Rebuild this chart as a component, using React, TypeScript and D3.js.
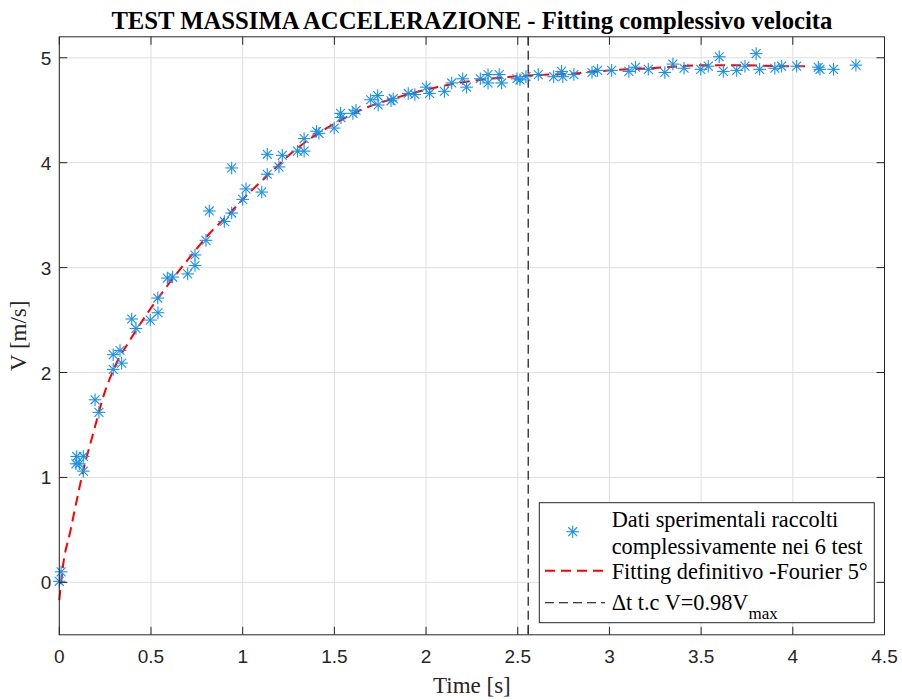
import React from "react";
import * as d3 from "d3";

// Experimental data (time [s], velocity [m/s])
const dataT: number[] = [
  0.00, 0.01, 0.095, 0.131, 0.091, 0.109, 0.131, 0.195, 0.216, 0.294,
  0.331, 0.294, 0.340, 0.395, 0.418, 0.496, 0.538, 0.537, 0.589, 0.618,
  0.700, 0.740, 0.740, 0.800, 0.818, 0.900, 0.940, 0.940, 1.000, 1.018,
  1.104, 1.134, 1.134, 1.198, 1.216, 1.299, 1.335, 1.335, 1.403, 1.416,
  1.499, 1.534, 1.536, 1.601, 1.618, 1.698, 1.736, 1.739, 1.809, 1.821,
  1.903, 1.939, 2.001, 2.019, 2.100, 2.140, 2.200, 2.221, 2.296, 2.338,
  2.338, 2.399, 2.412, 2.496, 2.512, 2.545, 2.612, 2.696, 2.739, 2.746,
  2.806, 2.905, 2.935, 3.012, 3.106, 3.142, 3.212, 3.302, 3.346, 3.407,
  3.498, 3.539, 3.599, 3.621, 3.694, 3.739, 3.800, 3.819, 3.902, 3.939,
  4.021, 4.139, 4.148, 4.222, 4.344,
];
const dataV: number[] = [
  0.01, 0.10, 1.20, 1.20, 1.13, 1.13, 1.06, 1.74, 1.62, 2.17,
  2.21, 2.03, 2.09, 2.51, 2.42, 2.50, 2.57, 2.71, 2.90, 2.91,
  2.94, 3.02, 3.12, 3.26, 3.54, 3.44, 3.52, 3.95, 3.65, 3.75,
  3.72, 3.89, 4.08, 3.96, 4.07, 4.11, 4.11, 4.23, 4.30, 4.28,
  4.33, 4.47, 4.43, 4.47, 4.50, 4.60, 4.64, 4.55, 4.59, 4.61,
  4.66, 4.65, 4.72, 4.66, 4.68, 4.76, 4.80, 4.72, 4.80, 4.84,
  4.76, 4.84, 4.76, 4.80, 4.79, 4.82, 4.84, 4.82, 4.87, 4.82,
  4.84, 4.86, 4.88, 4.88, 4.87, 4.91, 4.89, 4.86, 4.94, 4.90,
  4.89, 4.92, 5.01, 4.87, 4.88, 4.92, 5.04, 4.89, 4.90, 4.92,
  4.92, 4.91, 4.89, 4.89, 4.93,
];

// Fourier fit curve
const fitT: number[] = [
  0, 0.022, 0.058, 0.095, 0.131, 0.185, 0.240, 0.304, 0.386, 0.467,
  0.586, 0.731, 0.822, 0.913, 1.040, 1.149, 1.258, 1.403, 1.531, 1.640,
  1.840, 2.058, 2.300, 2.557, 2.803, 3.003, 3.221, 3.530, 3.730, 3.948, 4.093,
];
const fitV: number[] = [
  -0.17, 0.18, 0.47, 0.78, 1.07, 1.42, 1.77, 2.06, 2.31, 2.53,
  2.82, 3.14, 3.33, 3.49, 3.72, 3.90, 4.08, 4.27, 4.40, 4.50,
  4.62, 4.72, 4.79, 4.83, 4.85, 4.88, 4.90, 4.93, 4.93, 4.92, 4.92,
];

const tStar = 2.557;
const xTicks: number[] = [0, 0.5, 1, 1.5, 2, 2.5, 3, 3.5, 4, 4.5];
const xTickLabels: string[] = ["0", "0.5", "1", "1.5", "2", "2.5", "3", "3.5", "4", "4.5"];
const yTicks: number[] = [0, 1, 2, 3, 4, 5];
const yTickLabels: string[] = ["0", "1", "2", "3", "4", "5"];

const titleText = "TEST MASSIMA ACCELERAZIONE - Fitting complessivo velocita";
const xLabel = "Time [s]";
const yLabel = "V [m/s]";
const legend1a = "Dati sperimentali raccolti";
const legend1b = "complessivamente nei 6 test";
const legend2 = "Fitting definitivo -Fourier 5°";
const legend3 = "Δt t.c V=0.98V";
const legend3sub = "max";

const W = 902, H = 700;
const L = 59.3, R = 884.5, T = 36.8, B = 634.8;
const AX = "#262626";
const BLUE = "#1890ec";
const SERIF = "'Liberation Serif', 'Times New Roman', serif";
const SANS = "'Liberation Sans', Arial, Helvetica, sans-serif";

function Star({ x, y, r = 6.3 }: { x: number; y: number; r?: number }) {
  const d = r * 0.7071;
  return (
    <g stroke={BLUE} strokeWidth={1.1}>
      <line x1={x - r} y1={y} x2={x + r} y2={y} />
      <line x1={x} y1={y - r} x2={x} y2={y + r} />
      <line x1={x - d} y1={y - d} x2={x + d} y2={y + d} />
      <line x1={x - d} y1={y + d} x2={x + d} y2={y - d} />
    </g>
  );
}

export default function App() {
  const x = d3.scaleLinear().domain([0, 4.5]).range([L, R]);
  const y = d3.scaleLinear().domain([-0.5, 5.2]).range([B, T]);
  const fitPts: [number, number][] = fitT.map((t, i) => [t, fitV[i]]);
  const line = d3
    .line<[number, number]>()
    .x((d) => x(d[0]))
    .y((d) => y(d[1]))
    .curve(d3.curveMonotoneX);

  const tickLen = 8;
  const allXTicks = [...xTicks, tStar];

  // legend geometry
  const lgX = 539.3, lgY = 502.7, lgW = 335, lgH = 120;

  return (
    <svg width={W} height={H} style={{ position: "absolute", left: 0, top: 0, background: "#fff" }}>
      <rect x={0} y={0} width={W} height={H} fill="#fff" />
      {/* grid */}
      <g stroke="#dfdfdf" strokeWidth={1}>
        {xTicks.map((t) => (
          <line key={"gx" + t} x1={x(t)} x2={x(t)} y1={T} y2={B} />
        ))}
        {yTicks.map((v) => (
          <line key={"gy" + v} x1={L} x2={R} y1={y(v)} y2={y(v)} />
        ))}
      </g>

      {/* vertical dashed line */}
      <line x1={x(tStar)} x2={x(tStar)} y1={T} y2={B} stroke="#000" strokeWidth={1.1} strokeDasharray="9,5" />

      {/* fit curve */}
      <path d={line(fitPts) || ""} fill="none" stroke="#ff0000" strokeWidth={2} strokeDasharray="10,6" />

      {/* data stars */}
      {dataT.map((t, i) => (
        <Star key={"s" + i} x={x(t)} y={y(dataV[i])} />
      ))}

      {/* axes box */}
      <rect x={L} y={T} width={R - L} height={B - T} fill="none" stroke={AX} strokeWidth={1} />
      <g stroke={AX} strokeWidth={1}>
        {allXTicks.map((t) => (
          <g key={"xt" + t}>
            <line x1={x(t)} x2={x(t)} y1={B} y2={B - tickLen} />
            <line x1={x(t)} x2={x(t)} y1={T} y2={T + tickLen} />
          </g>
        ))}
        {yTicks.map((v) => (
          <g key={"yt" + v}>
            <line x1={L} x2={L + tickLen} y1={y(v)} y2={y(v)} />
            <line x1={R} x2={R - tickLen} y1={y(v)} y2={y(v)} />
          </g>
        ))}
      </g>

      {/* tick labels */}
      <g fill={AX} fontFamily={SANS} fontSize={19}>
        {xTicks.map((t, i) => (
          <text key={"xl" + t} x={x(t)} y={B + 28} textAnchor="middle">
            {xTickLabels[i]}
          </text>
        ))}
        {yTicks.map((v, i) => (
          <text key={"yl" + v} x={L - 8} y={y(v) + 7} textAnchor="end">
            {yTickLabels[i]}
          </text>
        ))}
      </g>

      {/* labels */}
      <text x={(L + R) / 2} y={29} textAnchor="middle" fontFamily={SERIF} fontWeight="bold" fontSize={24.7} fill="#000">
        {titleText}
      </text>
      <text x={(L + R) / 2} y={693} textAnchor="middle" fontFamily={SERIF} fontSize={23} fill={AX}>
        {xLabel}
      </text>
      <text
        transform={`translate(26,${(T + B) / 2}) rotate(-90)`}
        textAnchor="middle"
        fontFamily={SERIF}
        fontSize={23}
        fill={AX}
      >
        {yLabel}
      </text>

      {/* legend */}
      <rect x={lgX} y={lgY} width={lgW} height={lgH} fill="#fff" stroke={AX} strokeWidth={1} />
      <Star x={572.7} y={531.7} />
      <line x1={545} x2={605} y1={570.7} y2={570.7} stroke="#ff0000" strokeWidth={2} strokeDasharray="10,6" />
      <line x1={545} x2={605} y1={602.7} y2={602.7} stroke="#000" strokeWidth={1.1} strokeDasharray="9,5" />
      <g fontFamily={SERIF} fontSize={22.3} fill="#000">
        <text x={611.7} y={527}>{legend1a}</text>
        <text x={611.7} y={553.5}>{legend1b}</text>
        <text x={611.7} y={578.5}>{legend2}</text>
        <text x={611.7} y={609.5}>
          {legend3}
          <tspan fontSize={17} dy={9}>{legend3sub}</tspan>
        </text>
      </g>
    </svg>
  );
}
